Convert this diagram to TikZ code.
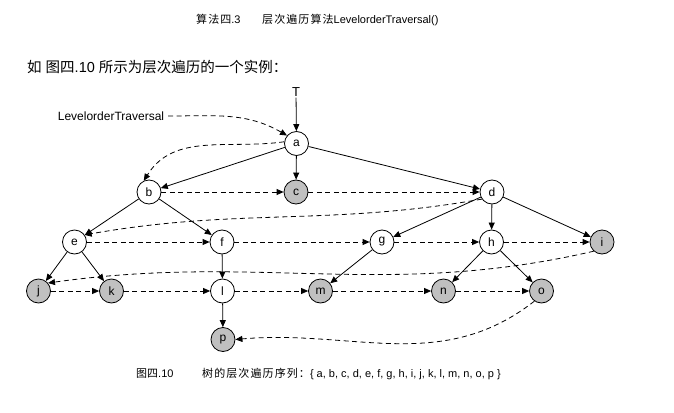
\documentclass[tikz,border=0pt]{standalone}
\usepackage{fontspec}
\setmainfont{Liberation Sans}
\newfontfamily\cjk{Noto Sans CJK SC}
\newfontfamily\cjksp[LetterSpace=10]{Noto Sans CJK SC}
\usetikzlibrary{arrows.meta}
\definecolor{leafgray}{RGB}{192,192,192}
\tikzset{
  tnode/.style={circle,draw,line width=0.8pt,minimum size=24pt,inner sep=0pt,
    font=\fontsize{12}{12}\selectfont},
  leaf/.style={tnode,fill=leafgray},
  edge/.style={-{Triangle[length=7pt,width=6pt]},line width=0.8pt},
  visit/.style={edge,dash pattern=on 5pt off 3.5pt},
  txt/.style={inner sep=0pt,anchor=base west},
}
\begin{document}
\begin{tikzpicture}[x=1pt,y=1pt]
\useasboundingbox (0,0) rectangle (674,-412);

% headings
\node[txt,font=\fontsize{11}{12}\selectfont] (alg) at (196,-24) {{\cjksp 算法四}.3};
\node[txt,font=\fontsize{11}{12}\selectfont] (algname) at (262,-24) {{\cjksp 层次遍历算法}LevelorderTraversal()};
\node[txt,font=\fontsize{14.5}{16}\selectfont] (intro) at (27,-72) {{\cjk 如} {\cjk 图四}.10 {\cjk 所示为层次遍历的一个实例：}};

% tree
\node[font=\fontsize{13}{14}\selectfont,inner sep=1pt] (T) at (296,-92) {T};
\node[font=\fontsize{12}{13}\selectfont,inner sep=1pt,outer sep=3pt] (lt) at (111,-116) {LevelorderTraversal};

\node[tnode] (a) at (296.5,-143.5) {a};
\node[tnode] (b) at (149,-192) {b};
\node[leaf]  (c) at (296,-192) {c};
\node[tnode] (d) at (492,-192) {d};
\node[tnode] (e) at (74.5,-242) {e};
\node[tnode] (f) at (222,-242) {f};
\node[tnode] (g) at (382,-242) {g};
\node[tnode] (h) at (491.5,-242) {h};
\node[leaf]  (i) at (602,-242) {i};
\node[leaf]  (j) at (38.5,-291) {j};
\node[leaf]  (k) at (111.5,-291) {k};
\node[tnode] (l) at (222.5,-291) {l};
\node[leaf]  (m) at (320.5,-291) {m};
\node[leaf]  (n) at (443.5,-291) {n};
\node[leaf]  (o) at (541.5,-291) {o};
\node[leaf]  (p) at (223,-339.5) {p};

% parent-child edges
\draw[edge] (T) -- (a);
\foreach \u/\v in {a/b,a/c,a/d,b/e,b/f,d/g,d/h,d/i,e/j,e/k,f/l,g/m,h/n,h/o,l/p}
  \draw[edge] (\u) -- (\v);

% visiting order
\draw[visit] (lt.east) to[out=0,in=150] (a.140);
\draw[visit] (a.172) to[out=188,in=58] (b.115);
\foreach \u/\v in {b/c,c/d,e/f,f/g,g/h,h/i,j/k,k/l,l/m,m/n,n/o}
  \draw[visit] (\u) -- (\v);
\draw[visit] (d.215) to[out=190,in=10] (e.35);
\draw[visit] (i.228) to[out=193,in=8] (j.40);
\draw[visit] (o.235) to[out=218,in=5] (p.east);

% caption
\node[txt,font=\fontsize{11}{12}\selectfont] (fig) at (136,-377) {{\cjk 图四}.10};
\node[txt,font=\fontsize{11}{12}\selectfont] (seq) at (202,-377)
  {{\cjksp 树的层次遍历序列：}\{ a, b, c, d, e, f, g, h, i, j, k, l, m, n, o, p \}};
\end{tikzpicture}
\end{document}
